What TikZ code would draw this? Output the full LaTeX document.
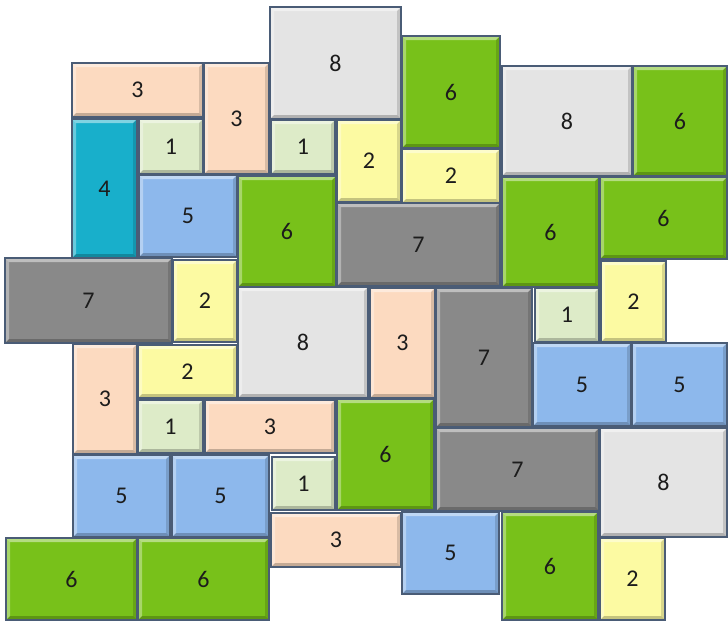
\documentclass[tikz,border=0pt]{standalone}
\usepackage{fontspec}
\setmainfont{Carlito}
\usepackage{tikz}
\usetikzlibrary{positioning}
\definecolor{Edge}{HTML}{4A5C76}
\definecolor{Ink}{HTML}{1C1C1C}
\definecolor{Mint}{HTML}{DDEBC8}
\definecolor{Lemon}{HTML}{FCFAA2}
\definecolor{Peach}{HTML}{FCDAC0}
\definecolor{Cyan}{HTML}{18AFCB}
\definecolor{Sky}{HTML}{8DB8EC}
\definecolor{Leaf}{HTML}{78C11A}
\definecolor{Slate}{HTML}{898989}
\definecolor{Silver}{HTML}{E4E4E4}

\begin{document}
\begin{tikzpicture}[x=1pt,y=-1pt,
        tile/.style={draw=Edge,line width=1.1pt,inner sep=0pt,outer sep=0pt,text=Ink,
          font=\fontsize{24}{28}\selectfont,
          path picture={
            \fill[white,opacity=.45] (path picture bounding box.north west) -- (path picture bounding box.north east)
              -- ([shift={(-4pt,-4pt)}]path picture bounding box.north east) -- ([shift={(4pt,-4pt)}]path picture bounding box.north west) -- cycle;
            \fill[white,opacity=.35] (path picture bounding box.north west) -- (path picture bounding box.south west)
              -- ([shift={(4pt,4pt)}]path picture bounding box.south west) -- ([shift={(4pt,-4pt)}]path picture bounding box.north west) -- cycle;
            \fill[black,opacity=.22] (path picture bounding box.south west) -- (path picture bounding box.south east)
              -- ([shift={(-4pt,4pt)}]path picture bounding box.south east) -- ([shift={(4pt,4pt)}]path picture bounding box.south west) -- cycle;
            \fill[black,opacity=.14] (path picture bounding box.north east) -- (path picture bounding box.south east)
              -- ([shift={(-4pt,4pt)}]path picture bounding box.south east) -- ([shift={(-4pt,-4pt)}]path picture bounding box.north east) -- cycle;
          }},
        t1/.style={tile,fill=Mint},
        t2/.style={tile,fill=Lemon},
        t3/.style={tile,fill=Peach},
        t4/.style={tile,fill=Cyan},
        t5/.style={tile,fill=Sky},
        t6/.style={tile,fill=Leaf},
        t7/.style={tile,fill=Slate},
        t8/.style={tile,fill=Silver}]
  \useasboundingbox[fill=white] (0,0) rectangle (728,622);
  % top band
  \node[t3,minimum width=131pt,minimum height=54pt] (p3a) at (137.5,90) {3};
  \node[t3,minimum width=65pt,minimum height=111pt] (p3b) at (236.5,118.5) {3};
  \node[t8,minimum width=131pt,minimum height=112pt] (p8a) at (335.5,63) {8};
  \node[t6,minimum width=98pt,minimum height=112pt] (p6a) at (451,92) {6};
  \node[t8,minimum width=130pt,minimum height=110pt] (p8b) at (567,121) {8};
  \node[t6,minimum width=94pt,minimum height=110pt] (p6b) at (680,121) {6};
  \node[t4,minimum width=65pt,minimum height=139pt] (p4a) at (104.5,188.5) {4};
  \node[t1,minimum width=64pt,minimum height=55pt] (p1a) at (171,146.5) {1};
  \node[t1,minimum width=64pt,minimum height=54pt] (p1b) at (303,147) {1};
  \node[t2,minimum width=64pt,minimum height=82pt] (p2a) at (369,161) {2};
  \node[t2,minimum width=98pt,minimum height=54pt] (p2b) at (451,176) {2};
  \node[t5,minimum width=98pt,minimum height=82pt] (p5a) at (188,216) {5};
  \node[t6,minimum width=98pt,minimum height=111pt] (p6c) at (287,231.5) {6};
  \node[t7,minimum width=163pt,minimum height=83pt] (p7a) at (418.5,244.5) {7};
  \node[t6,minimum width=97pt,minimum height=110pt] (p6d) at (550.5,232) {6};
  \node[t6,minimum width=127pt,minimum height=82pt] (p6e) at (663.5,218) {6};
  % middle band
  \node[t7,minimum width=167pt,minimum height=85pt] (p7b) at (88.5,300.5) {7};
  \node[t2,minimum width=64pt,minimum height=82pt] (p2c) at (205,301) {2};
  \node[t8,minimum width=130pt,minimum height=111pt] (p8c) at (303,342.5) {8};
  \node[t3,minimum width=65pt,minimum height=110pt] (p3c) at (402.5,343) {3};
  \node[t7,minimum width=96pt,minimum height=139pt] (p7c) at (484,357.5) {7};
  \node[t1,minimum width=64pt,minimum height=54pt] (p1c) at (567,315) {1};
  \node[t2,minimum width=65pt,minimum height=81pt] (p2d) at (633.5,301.5) {2};
  \node[t3,minimum width=64pt,minimum height=110pt] (p3d) at (105,399) {3};
  \node[t2,minimum width=99pt,minimum height=53pt] (p2e) at (187.5,371.5) {2};
  \node[t5,minimum width=98pt,minimum height=83pt] (p5b) at (582,384.5) {5};
  \node[t5,minimum width=95pt,minimum height=83pt] (p5c) at (679.5,384.5) {5};
  \node[t1,minimum width=65pt,minimum height=53pt] (p1d) at (170.5,426.5) {1};
  \node[t3,minimum width=130pt,minimum height=53pt] (p3e) at (270,426.5) {3};
  \node[t6,minimum width=97pt,minimum height=111pt] (p6f) at (385.5,454.5) {6};
  \node[t7,minimum width=163pt,minimum height=83pt] (p7d) at (517.5,469.5) {7};
  \node[t8,minimum width=127pt,minimum height=109pt] (p8d) at (663.5,482.5) {8};
  % bottom band
  \node[t5,minimum width=97pt,minimum height=82pt] (p5d) at (121.5,496) {5};
  \node[t5,minimum width=97pt,minimum height=82pt] (p5e) at (220.5,496) {5};
  \node[t1,minimum width=63pt,minimum height=53pt] (p1e) at (303.5,483.5) {1};
  \node[t3,minimum width=130pt,minimum height=54pt] (p3f) at (336,540) {3};
  \node[t5,minimum width=97pt,minimum height=82pt] (p5f) at (450.5,553) {5};
  \node[t6,minimum width=96pt,minimum height=108pt] (p6g) at (550,566) {6};
  \node[t2,minimum width=65pt,minimum height=82pt] (p2f) at (632.5,579) {2};
  \node[t6,minimum width=131pt,minimum height=82pt] (p6h) at (71.5,579) {6};
  \node[t6,minimum width=131pt,minimum height=82pt] (p6i) at (203.5,579) {6};
\end{tikzpicture}
\end{document}
